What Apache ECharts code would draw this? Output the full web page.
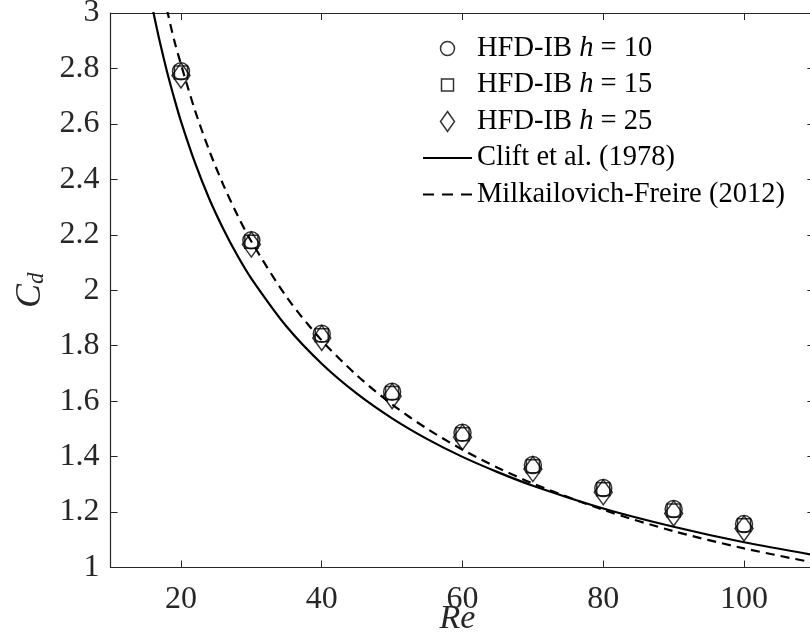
<!DOCTYPE html>
<html>
<head>
<meta charset="utf-8">
<script src="https://cdn.jsdelivr.net/npm/echarts@6/dist/echarts.min.js"></script>
<style>
html,body{margin:0;padding:0;background:#fff;}
#chart{width:810px;height:637px;}
</style>
</head>
<body>
<div id="chart"></div>
<script>
// ---- data ----
const reMarkers = [20, 30, 40, 50, 60, 70, 80, 90, 100];
const cdH10 = [2.790, 2.180, 1.843, 1.634, 1.486, 1.370, 1.287, 1.211, 1.157];
const cdH15 = [2.785, 2.175, 1.838, 1.629, 1.481, 1.365, 1.282, 1.206, 1.152];
const cdH25 = [2.775, 2.165, 1.828, 1.618, 1.470, 1.355, 1.271, 1.195, 1.141];

const reClift = [16, 17, 18, 19, 20, 22, 24, 26, 28, 30, 35, 40, 45, 50, 55, 60, 65, 70, 80, 90, 100, 110];
const cdClift = [3.012, 2.895, 2.790, 2.696, 2.609, 2.459, 2.331, 2.222, 2.126, 2.042, 1.869, 1.735, 1.627, 1.538, 1.463, 1.399, 1.344, 1.295, 1.213, 1.147, 1.091, 1.045];

const reMF = [18, 19, 20, 22, 24, 26, 28, 30, 35, 40, 45, 50, 55, 60, 65, 70, 80, 90, 100, 110];
const cdMF = [3.013, 2.905, 2.815, 2.648, 2.505, 2.381, 2.272, 2.176, 1.976, 1.819, 1.693, 1.588, 1.500, 1.425, 1.360, 1.303, 1.208, 1.131, 1.069, 1.017];

const xTicks = [20, 40, 60, 80, 100];
const legendTexts = {
  h10: '{t|HFD-IB }{i|h}{t| = 10}',
  h15: '{t|HFD-IB }{i|h}{t| = 15}',
  h25: '{t|HFD-IB }{i|h}{t| = 25}',
  clift: '{t|Clift et al. (1978)}',
  mf: '{t|Milkailovich-Freire (2012)}'
};

// ---- build ----
const FONT = 'Liberation Serif';
const AX = '#262626';
const pairs = (xs, ys) => xs.map((x, i) => [x, ys[i]]);

const markerStyle = { color: 'rgba(0,0,0,0)', borderColor: '#000', borderWidth: 1.5 };
const legendMarkerStyle = { color: 'rgba(0,0,0,0)', borderColor: '#000', borderWidth: 1.5 };
const legendLineStyle = { color: '#000', borderWidth: 0 };

const chart = echarts.init(document.getElementById('chart'), null, { renderer: 'canvas' });

const option = {
  animation: false,
  backgroundColor: '#fff',
  grid: { left: 110.6, right: -4.4, top: 13, bottom: 69.5, containLabel: false, outerBoundsMode: 'none' },
  xAxis: [{
    type: 'value', min: 10, max: 110, position: 'bottom',
    axisLine: { show: true, onZero: false, lineStyle: { color: AX, width: 1.2 } },
    axisTick: { show: true, inside: true, length: 7, customValues: xTicks, lineStyle: { color: AX, width: 1 } },
    axisLabel: { show: true, customValues: xTicks, margin: 16, color: AX, fontFamily: FONT, fontSize: 32 },
    splitLine: { show: false },
    name: 'Re', nameLocation: 'middle', nameGap: 35, nameMoveOverlap: false,
    nameTextStyle: { fontFamily: FONT, fontStyle: 'italic', fontSize: 34, color: AX, padding: [0, 10, 0, 0] }
  }, {
    type: 'value', min: 10, max: 110, position: 'top',
    axisLine: { show: true, onZero: false, lineStyle: { color: AX, width: 1.2 } },
    axisTick: { show: true, inside: true, length: 7, customValues: xTicks, lineStyle: { color: AX, width: 1 } },
    axisLabel: { show: false },
    splitLine: { show: false }
  }],
  yAxis: [{
    type: 'value', min: 1, max: 3, interval: 0.2, position: 'left',
    axisLine: { show: true, onZero: false, lineStyle: { color: AX, width: 1.2 } },
    axisTick: { show: true, inside: true, length: 7, lineStyle: { color: AX, width: 1 } },
    axisLabel: { show: true, margin: 11, color: AX, fontFamily: FONT, fontSize: 32 },
    splitLine: { show: false },
    name: '{c|C}{d|d}', nameLocation: 'middle', nameGap: 62, nameRotate: 90, nameMoveOverlap: false,
    nameTextStyle: {
      color: AX,
      rich: {
        c: { fontFamily: FONT, fontStyle: 'italic', fontSize: 36, color: AX, verticalAlign: 'bottom', lineHeight: 36 },
        d: { fontFamily: FONT, fontStyle: 'italic', fontSize: 23, color: AX, verticalAlign: 'bottom', lineHeight: 26 }
      }
    }
  }, {
    type: 'value', min: 1, max: 3, interval: 0.2, position: 'right',
    axisLine: { show: true, onZero: false, lineStyle: { color: AX, width: 1.2 } },
    axisTick: { show: true, inside: true, length: 7, lineStyle: { color: AX, width: 1 } },
    axisLabel: { show: false },
    splitLine: { show: false }
  }],
  legend: {
    orient: 'vertical',
    left: 418, top: 29,
    itemWidth: 49, itemHeight: 20, itemGap: 7.5,
    selectedMode: false,
    textStyle: {
      color: '#000', fontFamily: FONT, fontSize: 28.5, lineHeight: 28,
      rich: {
        t: { fontFamily: FONT, fontSize: 28.5, color: '#000', lineHeight: 28 },
        i: { fontFamily: FONT, fontSize: 28.5, fontStyle: 'italic', color: '#000', lineHeight: 28 }
      }
    },
    formatter: (name) => legendTexts[name],
    data: [
      { name: 'h10', icon: 'path://M0,0M20,20M17,10A7,7,0,1,1,3,10A7,7,0,1,1,17,10Z', itemStyle: legendMarkerStyle },
      { name: 'h15', icon: 'path://M0,0M20,20M4,4L16,4L16,16L4,16Z', itemStyle: legendMarkerStyle },
      { name: 'h25', icon: 'path://M0,0M20,20M10,0L17,10L10,20L3,10Z', itemStyle: legendMarkerStyle },
      { name: 'clift', icon: 'path://M0,0L49,0L49,2.2L0,2.2Z', itemStyle: legendLineStyle },
      { name: 'mf', icon: 'path://M0,0L11,0L11,2.2L0,2.2ZM19,0L30,0L30,2.2L19,2.2ZM38,0L49,0L49,2.2L38,2.2Z', itemStyle: legendLineStyle }
    ]
  },
  series: [
    {
      name: 'clift', type: 'line', data: pairs(reClift, cdClift), smooth: 0.3,
      symbol: 'none', showSymbol: false, clip: true, z: 2,
      lineStyle: { color: '#000', width: 2.2, type: 'solid' },
      itemStyle: { color: '#000' }
    },
    {
      name: 'mf', type: 'line', data: pairs(reMF, cdMF), smooth: 0.3,
      symbol: 'none', showSymbol: false, clip: true, z: 2,
      lineStyle: { color: '#000', width: 2.2, type: [9, 6] },
      itemStyle: { color: '#000' }
    },
    {
      name: 'h10', type: 'scatter', data: pairs(reMarkers, cdH10),
      symbol: 'circle', symbolSize: 17, itemStyle: markerStyle, z: 3
    },
    {
      name: 'h15', type: 'scatter', data: pairs(reMarkers, cdH15),
      symbol: 'rect', symbolSize: 13, itemStyle: markerStyle, z: 3
    },
    {
      name: 'h25', type: 'scatter', data: pairs(reMarkers, cdH25),
      symbol: 'diamond', symbolSize: [18, 25], itemStyle: markerStyle, z: 3
    }
  ]
};
chart.setOption(option);
</script>
</body>
</html>
